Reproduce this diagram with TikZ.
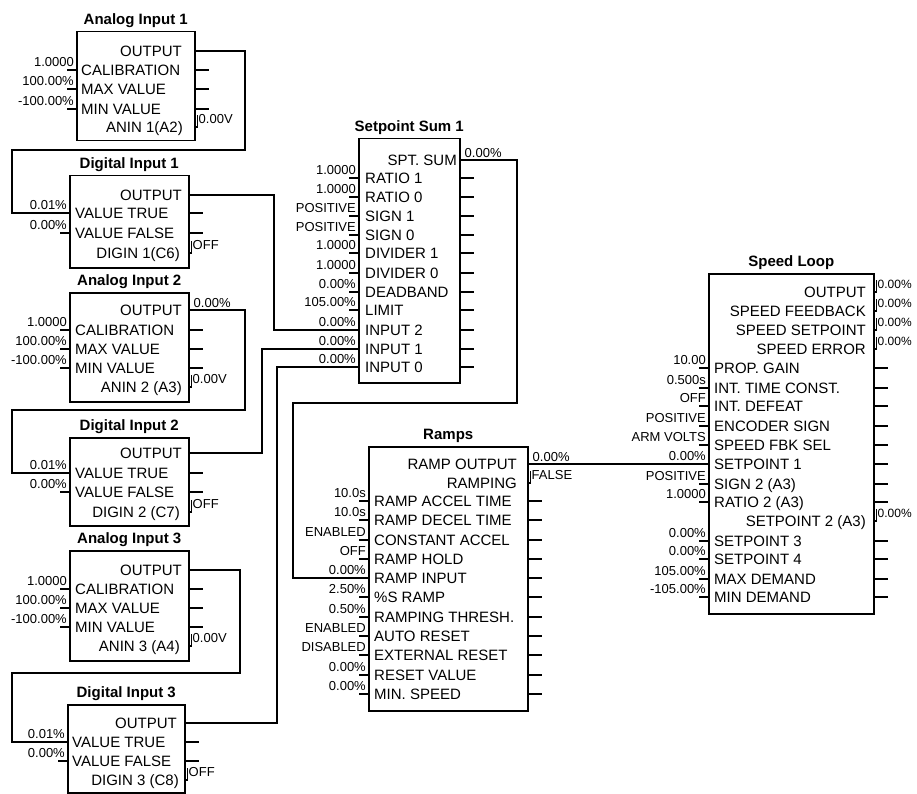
\documentclass[tikz,border=0pt]{standalone}
\usepackage{fontspec}
\setmainfont{Liberation Sans}
\usetikzlibrary{positioning}

\tikzset{
    fblock/.style={draw, line width=1.5pt, inner sep=0pt, anchor=north west},
    ftitle/.style={font=\fontsize{15}{15}\selectfont\bfseries, inner sep=0pt},
    plab/.style={font=\fontsize{15}{15}\selectfont, inner sep=0pt, text height=10.5pt, text depth=0pt},
    plabin/.style={plab, anchor=west},
    plabout/.style={plab, anchor=east},
    pval/.style={font=\fontsize{13}{13}\selectfont, inner sep=0pt, text height=9.3pt, text depth=0pt},
    pvalin/.style={pval, anchor=south east, xshift=-2pt, yshift=3pt},
    pvalout/.style={pval, anchor=south west, xshift=4pt, yshift=2pt},
    pvalhook/.style={pval, anchor=south west, xshift=3pt, yshift=3pt},
    wire/.style={line width=1.3pt},
}

\begin{document}
\begin{tikzpicture}[x=1pt, y=-1pt]
        \useasboundingbox (0,0) rectangle (917,794);

        % Analog Input 1
        \node[fblock, minimum width=118pt, minimum height=109pt] (ai1) at (76,31) {};
        \node[ftitle, above=3pt of ai1] (ai1t) {Analog Input 1};
        \node[plabout] (ai1out) at (182,51) {OUTPUT};
        \node[plabout] (ai1anin) at (183,127) {ANIN 1(A2)};
        \foreach \n/\y/\t/\v in
        {cal/70/CALIBRATION/1.0000,
            max/89/MAX VALUE/100.00\%,
            min/109/MIN VALUE/-100.00\%
        }
        {
            \node[plabin] (ai1\n) at (81,\y) {\t};
            \draw[wire] (ai1.west |- ai1\n) -- ++(-9,0);
            \draw[wire] (ai1.east |- ai1\n) -- ++(13,0);
            \node[pvalin] (ai1\n-v) at (ai1.west |- ai1\n) {\v};
        };
        \draw[wire] (ai1.east |- ai1anin) -- ++(2,0) -- ++(0,-12);
        \node[pvalhook] (ai1anin-v) at (ai1.east |- ai1anin) {0.00V};

        % Digital Input 1
        \node[fblock, minimum width=119pt, minimum height=92pt] (di1) at (69,175) {};
        \node[ftitle, above=3pt of di1] (di1t) {Digital Input 1};
        \node[plabout] (di1out) at (182,195) {OUTPUT};
        \node[plabout] (di1dig) at (180,253) {DIGIN 1(C6)};
        \foreach \n/\y/\t/\v in
        {vt/213/VALUE TRUE/0.01\%,
            vf/233/VALUE FALSE/0.00\%
        }
        {
            \node[plabin] (di1\n) at (75,\y) {\t};
            \draw[wire] (di1.west |- di1\n) -- ++(-9,0);
            \draw[wire] (di1.east |- di1\n) -- ++(13,0);
            \node[pvalin] (di1\n-v) at (di1.west |- di1\n) {\v};
        };
        \draw[wire] (di1.east |- di1dig) -- ++(2,0) -- ++(0,-12);
        \node[pvalhook] (di1dig-v) at (di1.east |- di1dig) {OFF};

        % Analog Input 2
        \node[fblock, minimum width=119pt, minimum height=109pt] (ai2) at (69,292) {};
        \node[ftitle, above=3pt of ai2] (ai2t) {Analog Input 2};
        \node[plabout] (ai2out) at (182,310) {OUTPUT};
        \node[pvalout] (ai2out-v) at (ai2.east |- ai2out) {0.00\%};
        \node[plabout] (ai2anin) at (182,387) {ANIN 2 (A3)};
        \foreach \n/\y/\t/\v in
        {cal/330/CALIBRATION/1.0000,
            max/349/MAX VALUE/100.00\%,
            min/368/MIN VALUE/-100.00\%
        }
        {
            \node[plabin] (ai2\n) at (75,\y) {\t};
            \draw[wire] (ai2.west |- ai2\n) -- ++(-9,0);
            \draw[wire] (ai2.east |- ai2\n) -- ++(13,0);
            \node[pvalin] (ai2\n-v) at (ai2.west |- ai2\n) {\v};
        };
        \draw[wire] (ai2.east |- ai2anin) -- ++(2,0) -- ++(0,-12);
        \node[pvalhook] (ai2anin-v) at (ai2.east |- ai2anin) {0.00V};

        % Digital Input 2
        \node[fblock, minimum width=119pt, minimum height=88pt] (di2) at (69,437) {};
        \node[ftitle, above=3pt of di2] (di2t) {Digital Input 2};
        \node[plabout] (di2out) at (182,453) {OUTPUT};
        \node[plabout] (di2dig) at (180,512) {DIGIN 2 (C7)};
        \foreach \n/\y/\t/\v in
        {vt/473/VALUE TRUE/0.01\%,
            vf/492/VALUE FALSE/0.00\%
        }
        {
            \node[plabin] (di2\n) at (75,\y) {\t};
            \draw[wire] (di2.west |- di2\n) -- ++(-9,0);
            \draw[wire] (di2.east |- di2\n) -- ++(13,0);
            \node[pvalin] (di2\n-v) at (di2.west |- di2\n) {\v};
        };
        \draw[wire] (di2.east |- di2dig) -- ++(2,0) -- ++(0,-12);
        \node[pvalhook] (di2dig-v) at (di2.east |- di2dig) {OFF};

        % Analog Input 3
        \node[fblock, minimum width=119pt, minimum height=110pt] (ai3) at (69,550) {};
        \node[ftitle, above=3pt of ai3] (ai3t) {Analog Input 3};
        \node[plabout] (ai3out) at (182,570) {OUTPUT};
        \node[plabout] (ai3anin) at (180,646) {ANIN 3 (A4)};
        \foreach \n/\y/\t/\v in
        {cal/589/CALIBRATION/1.0000,
            max/608/MAX VALUE/100.00\%,
            min/627/MIN VALUE/-100.00\%
        }
        {
            \node[plabin] (ai3\n) at (75,\y) {\t};
            \draw[wire] (ai3.west |- ai3\n) -- ++(-9,0);
            \draw[wire] (ai3.east |- ai3\n) -- ++(13,0);
            \node[pvalin] (ai3\n-v) at (ai3.west |- ai3\n) {\v};
        };
        \draw[wire] (ai3.east |- ai3anin) -- ++(2,0) -- ++(0,-12);
        \node[pvalhook] (ai3anin-v) at (ai3.east |- ai3anin) {0.00V};

        % Digital Input 3
        \node[fblock, minimum width=117pt, minimum height=88pt] (di3) at (67,704) {};
        \node[ftitle, above=3pt of di3] (di3t) {Digital Input 3};
        \node[plabout] (di3out) at (177,723) {OUTPUT};
        \node[plabout] (di3dig) at (179,780) {DIGIN 3 (C8)};
        \foreach \n/\y/\t/\v in
        {vt/742/VALUE TRUE/0.01\%,
            vf/761/VALUE FALSE/0.00\%
        }
        {
            \node[plabin] (di3\n) at (72,\y) {\t};
            \draw[wire] (di3.west |- di3\n) -- ++(-9,0);
            \draw[wire] (di3.east |- di3\n) -- ++(13,0);
            \node[pvalin] (di3\n-v) at (di3.west |- di3\n) {\v};
        };
        \draw[wire] (di3.east |- di3dig) -- ++(2,0) -- ++(0,-12);
        \node[pvalhook] (di3dig-v) at (di3.east |- di3dig) {OFF};

        % Setpoint Sum 1
        \node[fblock, minimum width=101pt, minimum height=244pt] (sp) at (358,138) {};
        \node[ftitle, above=3pt of sp] (spt) {Setpoint Sum 1};
        \node[plabout] (spout) at (457,160) {SPT. SUM};
        \node[pvalout] (spout-v) at (sp.east |- spout) {0.00\%};
        \foreach \n/\y/\t/\v in
        {r1/178/RATIO 1/1.0000,
            r0/197/RATIO 0/1.0000,
            s1/216/SIGN 1/POSITIVE,
            s0/235/SIGN 0/POSITIVE,
            d1/253/DIVIDER 1/1.0000,
            d0/273/DIVIDER 0/1.0000,
            db/292/DEADBAND/0.00\%,
            lim/310/LIMIT/105.00\%,
            in2/330/INPUT 2/0.00\%,
            in1/349/INPUT 1/0.00\%,
            in0/367/INPUT 0/0.00\%
        }
        {
            \node[plabin] (sp\n) at (365,\y) {\t};
            \draw[wire] (sp.west |- sp\n) -- ++(-9,0);
            \draw[wire] (sp.east |- sp\n) -- ++(13,0);
            \node[pvalin] (sp\n-v) at (sp.west |- sp\n) {\v};
        };

        % Ramps
        \node[fblock, minimum width=159pt, minimum height=264pt] (rp) at (368,446) {};
        \node[ftitle, above=3pt of rp] (rpt) {Ramps};
        \node[plabout] (rpout) at (517,464) {RAMP OUTPUT};
        \node[pvalout] (rpout-v) at (rp.east |- rpout) {0.00\%};
        \node[plabout] (rpramp) at (517,483) {RAMPING};
        \draw[wire] (rp.east |- rpramp) -- ++(2,0) -- ++(0,-12);
        \node[pvalhook] (rpramp-v) at (rp.east |- rpramp) {FALSE};
        \foreach \n/\y/\t/\v in
        {acc/501/RAMP ACCEL TIME/10.0s,
            dec/520/RAMP DECEL TIME/10.0s,
            ca/540/CONSTANT ACCEL/ENABLED,
            hold/559/RAMP HOLD/OFF,
            rin/578/RAMP INPUT/0.00\%,
            srmp/597/\%S RAMP/2.50\%,
            thr/617/RAMPING THRESH./0.50\%,
            ar/636/AUTO RESET/ENABLED,
            er/655/EXTERNAL RESET/DISABLED,
            rv/675/RESET VALUE/0.00\%,
            ms/694/MIN. SPEED/0.00\%
        }
        {
            \node[plabin] (rp\n) at (374,\y) {\t};
            \draw[wire] (rp.west |- rp\n) -- ++(-9,0);
            \draw[wire] (rp.east |- rp\n) -- ++(13,0);
            \node[pvalin] (rp\n-v) at (rp.west |- rp\n) {\v};
        };

        % Speed Loop
        \node[fblock, minimum width=165pt, minimum height=340pt] (sl) at (708,273) {};
        \node[ftitle, above=3pt of sl] (slt) {Speed Loop};
        \foreach \n/\y/\t in
        {out/292/OUTPUT,
            fb/311/SPEED FEEDBACK,
            ssp/330/SPEED SETPOINT,
            err/349/SPEED ERROR,
            sp2/521/SETPOINT 2 (A3)
        }
        {
            \node[plabout] (sl\n) at (866,\y) {\t};
            \draw[wire] (sl.east |- sl\n) -- ++(2,0) -- ++(0,-12);
            \node[pvalhook, font=\fontsize{12}{12}\selectfont] (sl\n-v) at (sl.east |- sl\n) {0.00\%};
        };
        \foreach \n/\y/\t/\v in
        {pg/368/PROP. GAIN/10.00,
            itc/388/INT. TIME CONST./0.500s,
            idf/406/INT. DEFEAT/OFF,
            enc/426/ENCODER SIGN/POSITIVE,
            fbk/445/SPEED FBK SEL/ARM VOLTS,
            sp1/464/SETPOINT 1/0.00\%,
            sg2/484/SIGN 2 (A3)/POSITIVE,
            rt2/502/RATIO 2 (A3)/1.0000,
            sp3/541/SETPOINT 3/0.00\%,
            sp4/559/SETPOINT 4/0.00\%,
            maxd/579/MAX DEMAND/105.00\%,
            mind/597/MIN DEMAND/-105.00\%
        }
        {
            \node[plabin] (sl\n) at (714,\y) {\t};
            \draw[wire] (sl.west |- sl\n) -- ++(-9,0);
            \draw[wire] (sl.east |- sl\n) -- ++(13,0);
            \node[pvalin] (sl\n-v) at (sl.west |- sl\n) {\v};
        };

        % wiring
        \draw[wire] (ai1.east |- ai1out) -| (245,150) -- (12,150) |- (di1.west |- di1vt);
        \draw[wire] (di1.east |- di1out) -| (274,330) -- (sp.west |- spin2);
        \draw[wire] (ai2.east |- ai2out) -| (245,410) -- (12,410) |- (di2.west |- di2vt);
        \draw[wire] (di2.east |- di2out) -| (262,349) -- (sp.west |- spin1);
        \draw[wire] (ai3.east |- ai3out) -| (240,673) -- (12,673) |- (di3.west |- di3vt);
        \draw[wire] (di3.east |- di3out) -| (277,367) -- (sp.west |- spin0);
        \draw[wire] (sp.east |- spout) -| (517,403) -- (293,403) |- (rp.west |- rprin);
        \draw[wire] (rp.east |- rpout) -- (sl.west |- slsp1);

\end{tikzpicture}
\end{document}
